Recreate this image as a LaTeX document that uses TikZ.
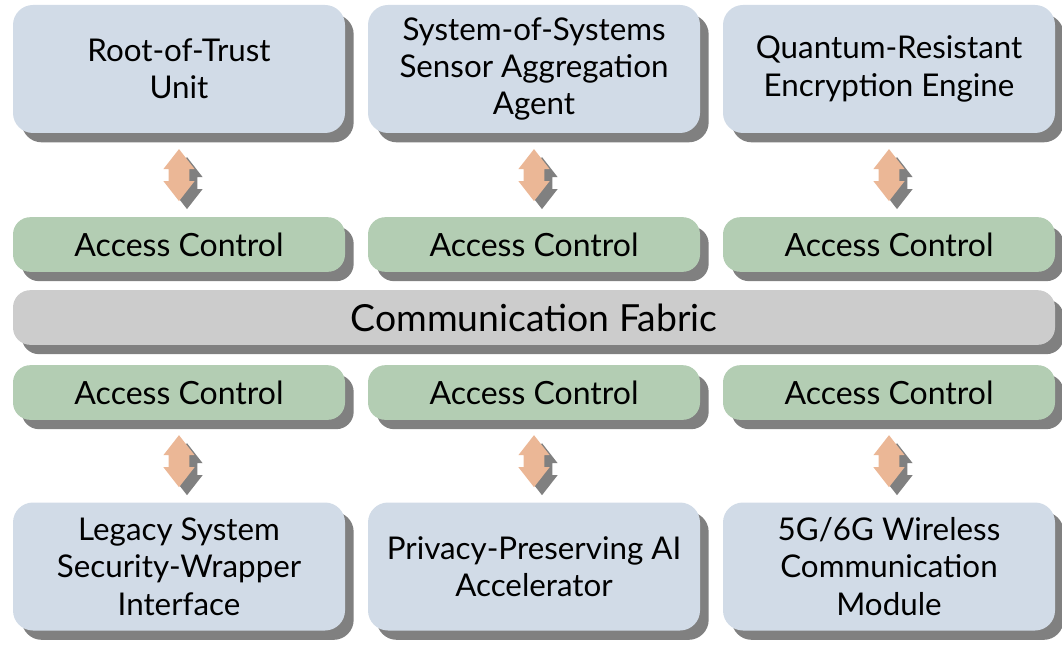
\documentclass[tikz,border=0pt]{standalone}
\usepackage{fontspec}
\setmainfont{Lato}
\usetikzlibrary{calc,shadows,shapes.arrows}
\definecolor{unitblue}{RGB}{209,219,231}
\definecolor{aclgreen}{RGB}{179,205,179}
\definecolor{busgray}{RGB}{204,204,204}
\definecolor{linkorange}{RGB}{235,183,150}
\definecolor{shadowgray}{RGB}{128,128,128}
\tikzset{%
  block/.style={rectangle, rounded corners=15pt, align=center, inner sep=0pt,
    drop shadow={shadow xshift=6.5pt, shadow yshift=-7pt, opacity=1, fill=shadowgray}},% any box
  subsystem/.style={block, fill=unitblue, minimum width=249pt, minimum height=96pt,
    font=\fontsize{23.5}{28}\selectfont},% hardware unit
  access/.style={block, fill=aclgreen, rounded corners=13pt, minimum width=249pt,
    minimum height=41pt, font=\fontsize{24}{28}\selectfont},% access control gate
  bus/.style={block, fill=busgray, rounded corners=13pt, minimum width=781.5pt,
    minimum height=41pt, font=\fontsize{28}{32}\selectfont},% shared fabric
  link/.style={double arrow, double arrow head extend=4pt, double arrow tip angle=76,
    shape border rotate=90, minimum height=39pt, minimum width=23pt, inner sep=7.5pt,
    fill=linkorange, drop shadow={shadow xshift=6pt, shadow yshift=-6pt, opacity=1,
    fill=shadowgray}}% two-way connection
}

\begin{document}
\begin{tikzpicture}[x=0.75pt, y=-0.75pt]
\useasboundingbox (0,0) rectangle (1062,645);

\node[subsystem] (rot) at (179, 69) {Root-of-Trust\\Unit};
\node[subsystem] (sos) at (534, 69) {System-of-Systems\\Sensor Aggregation\\Agent};
\node[subsystem] (qre) at (889, 69) {Quantum-Resistant\\Encryption Engine};

\node[access] (acrot) at (179, 244.5) {Access Control};
\node[access] (acsos) at (534, 244.5) {Access Control};
\node[access] (acqre) at (889, 244.5) {Access Control};

\node[bus] (fabric) at (534, 317.5) {Communication Fabric};

\node[access] (acleg) at (179, 392.5) {Access Control};
\node[access] (acai) at (534, 392.5) {Access Control};
\node[access] (acwl) at (889, 392.5) {Access Control};

\node[subsystem] (leg) at (179, 566.5) {Legacy System\\Security-Wrapper\\Interface};
\node[subsystem] (ai) at (534, 566.5) {Privacy-Preserving AI\\Accelerator};
\node[subsystem] (wl) at (889, 566.5) {5G/6G Wireless\\Communication\\Module};

\node[link] (lrot) at ($(rot.south)!0.5!(acrot.north)$) {};
\node[link] (lsos) at ($(sos.south)!0.5!(acsos.north)$) {};
\node[link] (lqre) at ($(qre.south)!0.5!(acqre.north)$) {};
\node[link] (lleg) at ($(acleg.south)!0.5!(leg.north)$) {};
\node[link] (lai) at ($(acai.south)!0.5!(ai.north)$) {};
\node[link] (lwl) at ($(acwl.south)!0.5!(wl.north)$) {};

\end{tikzpicture}
\end{document}
